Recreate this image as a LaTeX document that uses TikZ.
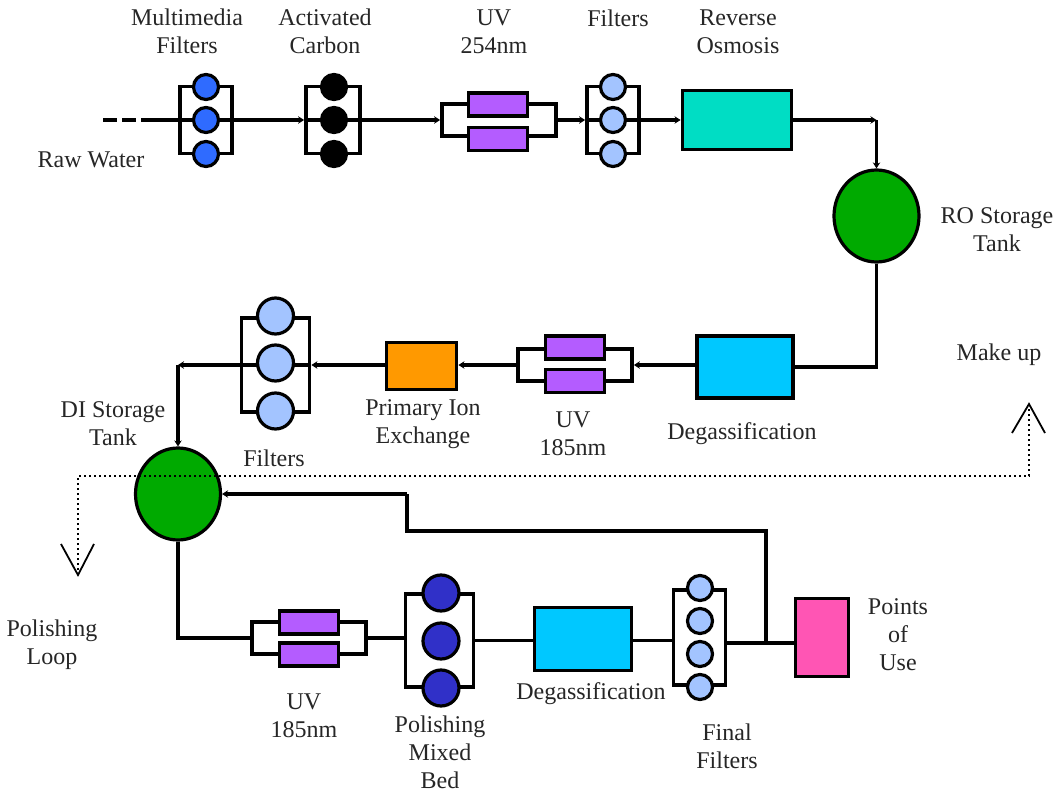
\documentclass[tikz,border=0pt]{standalone}
\usepackage{fontspec}
\setmainfont{Liberation Serif}
\usetikzlibrary{arrows.meta,backgrounds,shapes.geometric}
\definecolor{mmblue}{HTML}{2F6BFF}
\definecolor{lightblue}{HTML}{A3C4FF}
\definecolor{bedblue}{HTML}{3030C8}
\definecolor{lamp}{HTML}{B45CFF}
\definecolor{rogreen}{HTML}{00DDC4}
\definecolor{degblue}{HTML}{00C8FF}
\definecolor{ionorange}{HTML}{FF9900}
\definecolor{tankgreen}{HTML}{00AA00}
\definecolor{pink}{HTML}{FF55B4}
\tikzset{
  pipe/.style={line width=3.4pt},
  flow/.style={pipe, -{Stealth[length=6pt,width=7.5pt]}},
  rack/.style={draw, line width=3.8pt, rectangle, inner sep=0pt},
  bead/.style={draw, circle, line width=3.2pt, inner sep=0pt, minimum size=#1},
  lampbox/.style={draw, rectangle, line width=3.9pt, fill=lamp, inner sep=0pt, minimum width=59pt, minimum height=23pt},
  unit/.style={draw, rectangle, line width=3.9pt, inner sep=0pt},
  tank/.style={draw, ellipse, line width=3.2pt, fill=tankgreen, inner sep=0pt, minimum width=85pt, minimum height=92pt},
  lbl/.style={align=center, inner sep=0pt, text=black!85, font=\fontsize{24}{28}\selectfont},
  sig/.style={line width=1.6pt, dash pattern=on 1.8pt off 3.2pt},
  vee/.style={line width=1.8pt}
}
\begin{document}
\begin{tikzpicture}[x=1pt, y=-1pt]
  \useasboundingbox (0,0) rectangle (1053,792);
  % top row
  \node[rack, minimum width=52pt, minimum height=67pt] (mmf) at (206,120) {};
  \node[rack, minimum width=54pt, minimum height=67pt] (acf) at (333,120) {};
  \node[rack, minimum width=114pt, minimum height=32pt] (uva) at (499,120) {};
  \node[rack, minimum width=52pt, minimum height=67pt] (fta) at (613,120) {};
  \foreach \i/\yy in {1/87,2/120,3/154} {
    \node[bead=25pt, fill=mmblue] (mm\i) at (206,\yy) {};
    \node[bead=25pt, fill=black] (ac\i) at (334,\yy) {};
    \node[bead=25pt, fill=lightblue] (fa\i) at (613,\yy) {};
  }
  \node[lampbox] (uva1) at (498,104.5) {};
  \node[lampbox] (uva2) at (498,139) {};
  \node[unit, fill=rogreen, minimum width=109pt, minimum height=59pt] (ro) at (737,120) {};
  \node[tank] (rot) at (876.5,216) {};
  % middle row
  \node[unit, fill=degblue, minimum width=96pt, minimum height=62pt] (degb) at (745,367) {};
  \node[rack, minimum width=114pt, minimum height=32pt] (uvb) at (575,365) {};
  \node[lampbox] (uvb1) at (575,347.5) {};
  \node[lampbox] (uvb2) at (575,381) {};
  \node[unit, fill=ionorange, minimum width=70pt, minimum height=47pt] (ion) at (421.5,366) {};
  \node[rack, minimum width=68pt, minimum height=94pt] (ftb) at (275.5,365) {};
  \foreach \i/\yy in {1/316,2/363,3/411} {
    \node[bead=36pt, fill=lightblue] (fb\i) at (275.5,\yy) {};
  }
  \node[tank] (dit) at (178,494) {};
  % bottom row
  \node[rack, minimum width=114pt, minimum height=32pt] (uvc) at (309,638) {};
  \node[lampbox] (uvc1) at (309,622.5) {};
  \node[lampbox] (uvc2) at (309,654.5) {};
  \node[rack, minimum width=68pt, minimum height=93pt] (mbr) at (439.5,640.5) {};
  \foreach \i/\yy in {1/593,2/641,3/688} {
    \node[bead=36pt, fill=bedblue] (mb\i) at (441,\yy) {};
  }
  \node[unit, fill=degblue, minimum width=97pt, minimum height=63pt] (degc) at (583,639) {};
  \node[rack, minimum width=52pt, minimum height=95pt] (ffr) at (699.5,637.5) {};
  \foreach \i/\yy in {1/588,2/621,3/654,4/687} {
    \node[bead=25pt, fill=lightblue] (ff\i) at (700,\yy) {};
  }
  \node[unit, fill=pink, minimum width=53pt, minimum height=78pt] (pou) at (822,637.5) {};
  % free ends and corners
  \coordinate (rawin) at (103,120);
  \coordinate (rawon) at (141,120);
  \coordinate (rocor) at (876.5,120);
  \coordinate (dicor) at (178,365);
  \coordinate (tee) at (766,643);
  \coordinate (jog) at (407,531);
  \coordinate (polend) at (78,575);
  \coordinate (polcor) at (78,476);
  \coordinate (mkcor) at (1029,476);
  \coordinate (mkend) at (1029,404);
  \begin{scope}[on background layer]
    \draw[pipe, dash pattern=on 14pt off 5pt] (rawin) -- (rawon);
    \draw[pipe] (rawon) -- (mmf.west);
    \draw[pipe] (mmf.west) -- (mmf.east);
    \draw[flow] (mmf.east) -- (acf.west);
    \draw[pipe] (acf.west) -- (acf.east);
    \draw[flow] (acf.east) -- (uva.west);
    \draw[flow] (uva.east) -- (fta.west);
    \draw[pipe] (fta.west) -- (fta.east);
    \draw[flow] (fta.east) -- (ro.west);
    \draw[flow] (ro.east) -- (rocor);
    \draw[flow] (rocor) -- (rot.north);
    \draw[pipe] (rot.south) |- (degb.east);
    \draw[flow] (uvb.east -| degb.west) -- (uvb.east);
    \draw[flow] (uvb.west) -- (uvb.west -| ion.east);
    \draw[flow] (ftb.east -| ion.west) -- (ftb.east);
    \draw[pipe] (ftb.east) -- (ftb.west);
    \draw[flow] (ftb.west) -- (dicor);
    \draw[flow] (dicor) -- (dit.north);
    \draw[pipe] (dit.south) |- (uvc.west);
    \draw[pipe] (uvc.east) -- (uvc.east -| mbr.west);
    \draw[pipe] (mbr.east) -- (mbr.east -| degc.west);
    \draw[pipe] (degc.east |- mbr.east) -- (ffr.west |- mbr.east);
    \draw[pipe] (ffr.east |- tee) -- (tee) -- (tee -| pou.west);
    \draw[pipe] (tee) |- (jog) -- (jog |- dit.east);
    \draw[flow] (jog |- dit.east) -- (dit.east);
  \end{scope}
  % dotted make up and loop
  \draw[sig] (polend) -- (polcor) -- (mkcor) -- (mkend);
  \draw[vee] (61,544) -- (polend) -- (94,544);
  \draw[vee] (1012,433) -- (mkend) -- (1045,433);
  % labels
  \node[lbl] (lmm) at (187,31.5) {Multimedia\\Filters};
  \node[lbl] (lac) at (325,31.5) {Activated\\Carbon};
  \node[lbl] (luva) at (494,31.5) {UV\\254nm};
  \node[lbl] (lfa) at (618,18) {Filters};
  \node[lbl] (lro) at (738,31.5) {Reverse\\Osmosis};
  \node[lbl] (lraw) at (91,160) {Raw Water};
  \node[lbl] (lrot) at (997,229.5) {RO Storage\\Tank};
  \node[lbl] (lmk) at (999,355) {Make up};
  \node[lbl] (ldi) at (113,424) {DI Storage\\Tank};
  \node[lbl] (lfb) at (274,458) {Filters};
  \node[lbl] (lion) at (423,424.5) {Primary Ion\\Exchange};
  \node[lbl] (luvb) at (573,433.5) {UV\\185nm};
  \node[lbl] (ldegb) at (742,434) {Degassification};
  \node[lbl] (lpol) at (52,645) {Polishing\\Loop};
  \node[lbl] (luvc) at (304,715.5) {UV\\185nm};
  \node[lbl] (lmb) at (440,752) {Polishing\\Mixed\\Bed};
  \node[lbl] (ldegc) at (591,694) {Degassification};
  \node[lbl] (lff) at (727,746) {Final\\Filters};
  \node[lbl] (lpou) at (898,634.5) {Points\\of\\Use};
\end{tikzpicture}
\end{document}
